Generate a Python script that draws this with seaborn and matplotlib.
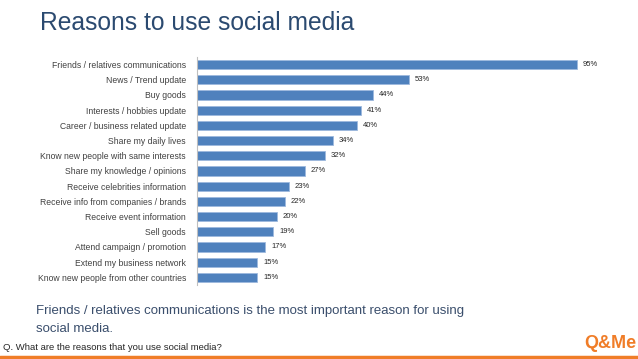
import matplotlib
matplotlib.use("Agg")
import matplotlib.pyplot as plt
import seaborn as sns
import pandas as pd

# 데이터
reasons = [
    "Friends / relatives communications",
    "News / Trend update",
    "Buy goods",
    "Interests / hobbies update",
    "Career / business related update",
    "Share my daily lives",
    "Know new people with same interests",
    "Share my knowledge / opinions",
    "Receive celebrities information",
    "Receive info from companies / brands",
    "Receive event information",
    "Sell goods",
    "Attend campaign / promotion",
    "Extend my business network",
    "Know new people from other countries",
]
percent = [95, 53, 44, 41, 40, 34, 32, 27, 23, 22, 20, 19, 17, 15, 15]

df = pd.DataFrame({"reason": reasons, "percent": percent})

sns.set_style("white")
plt.rcParams["font.family"] = ["Liberation Sans", "DejaVu Sans"]

fig = plt.figure(figsize=(6.38, 3.59), dpi=100)
ax = fig.add_axes([197 / 638, 1 - 285 / 359, (597 - 197) / 638, (285 - 57) / 359])

sns.barplot(data=df, x="percent", y="reason", color="#4F81BD", width=0.6,
            edgecolor="#9DB9DD", linewidth=0.6, saturation=1, ax=ax)

ax.set_xlim(0, 100)
ax.set_ylim(len(reasons) - 0.5, -0.5)
ax.set_xlabel("")
ax.set_ylabel("")
ax.set_xticks([])
ax.tick_params(axis="y", length=0, labelsize=6.2, colors="#404040", pad=8)
for side in ["top", "right", "bottom"]:
    ax.spines[side].set_visible(False)
ax.spines["left"].set_color("#BFBFBF")
ax.spines["left"].set_linewidth(0.8)

# 값 표시
for i, v in enumerate(percent):
    ax.text(v + 1.5, i, f"{v}%", va="center", ha="left", fontsize=5.5, color="#262626")

# 제목과 설명
fig.text(40 / 638, 1 - 23 / 359, "Reasons to use social media", fontsize=17.7,
         color="#2B4A70", va="center", ha="left")
fig.text(36 / 638, 1 - 320 / 359,
         "Friends / relatives communications is the most important reason for using\nsocial media.",
         fontsize=9.5, color="#3A4E6C", va="center", ha="left", linespacing=1.6)
fig.text(3 / 638, 1 - 348 / 359, "Q. What are the reasons that you use social media?",
         fontsize=6.8, color="#262626", va="center", ha="left")
fig.text(636 / 638, 1 - 343 / 359, "Q&Me", fontsize=13, fontweight="bold",
         color="#F07D28", va="center", ha="right")

# 하단 주황색 선
fig.add_artist(plt.Line2D([0, 1], [1 - 357 / 359, 1 - 357 / 359],
                          transform=fig.transFigure, color="#F07D28", linewidth=2.5))

fig.savefig("out.png", dpi=100)
